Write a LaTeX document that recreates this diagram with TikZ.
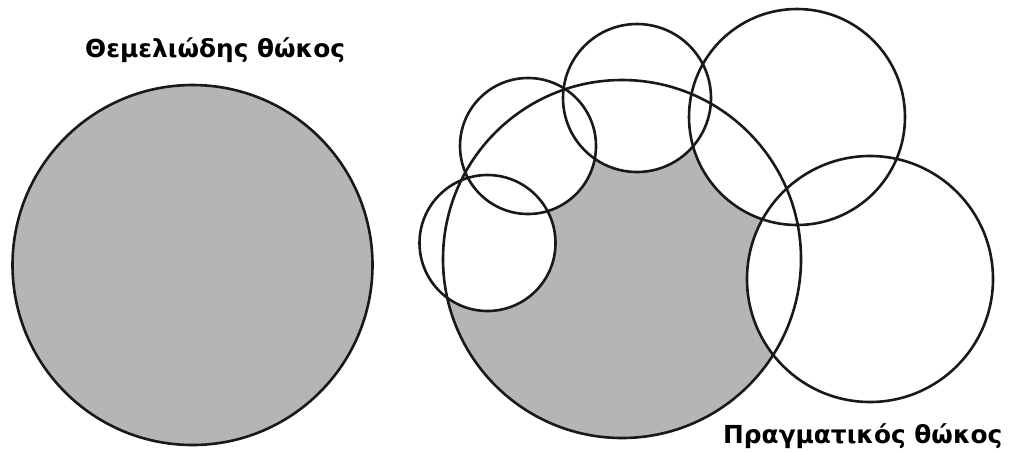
\documentclass[tikz,border=0pt]{standalone}
\usepackage{fontspec}
\setmainfont{DejaVu Sans}
\begin{document}
\begin{tikzpicture}[x=1pt,y=-1pt,
  outline/.style={draw=black!90, line width=2.6pt},
  shade/.style={fill=gray!58},
  hole/.style={fill=white},
  label/.style={font=\fontsize{24.8}{28}\selectfont\bfseries, inner sep=0pt, anchor=base west}]
\useasboundingbox (0,0) rectangle (1009,451);
% left: fundamental circle
\fill[shade] (192.5,265) circle[radius=180pt];
\draw[outline] (192.5,265) circle[radius=180pt];
\node[label] (t1) at (85,57) {Θεμελιώδης θώκος};
% right: realised niche
\fill[shade] (622,259) circle[radius=179pt];
\fill[hole] (487.5,243) circle[radius=68pt];
\fill[hole] (528,146) circle[radius=68pt];
\fill[hole] (637,98) circle[radius=74pt];
\fill[hole] (797,117) circle[radius=108pt];
\fill[hole] (870,279) circle[radius=123pt];
\draw[outline] (622,259) circle[radius=179pt];
\draw[outline] (487.5,243) circle[radius=68pt];
\draw[outline] (528,146) circle[radius=68pt];
\draw[outline] (637,98) circle[radius=74pt];
\draw[outline] (797,117) circle[radius=108pt];
\draw[outline] (870,279) circle[radius=123pt];
\node[label] (t2) at (723,443) {Πραγματικός θώκος};
\end{tikzpicture}
\end{document}
